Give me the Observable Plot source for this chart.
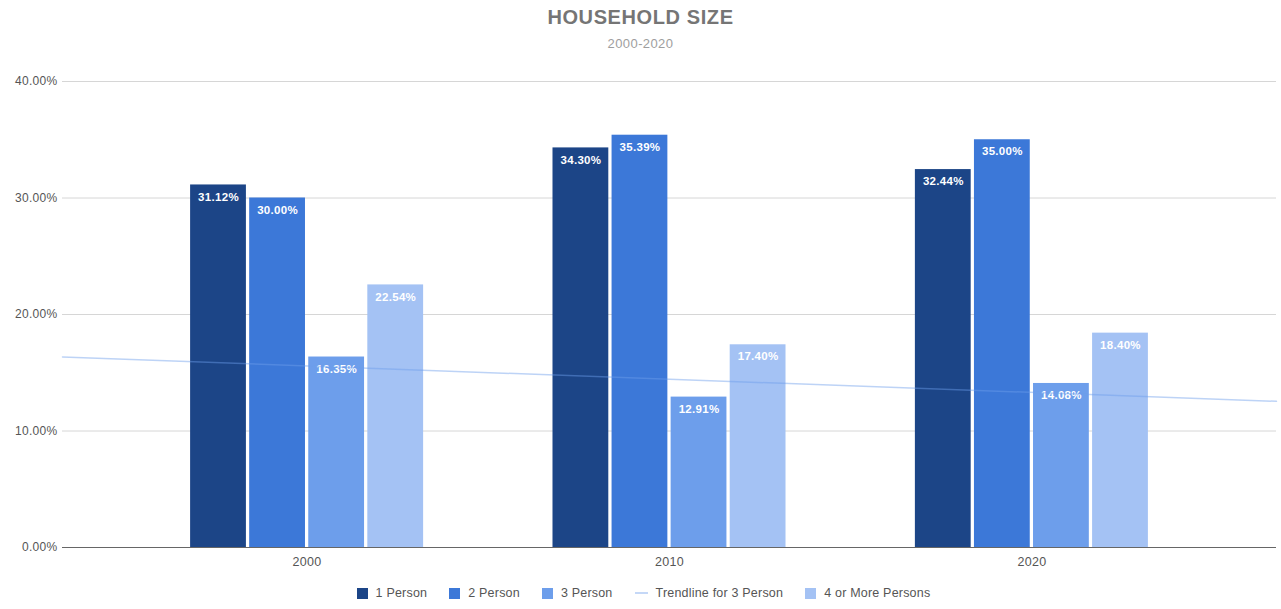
<!DOCTYPE html>
<html>
<head>
<meta charset="utf-8">
<script src="https://cdn.jsdelivr.net/npm/d3@7"></script>
<script src="https://cdn.jsdelivr.net/npm/@observablehq/plot@0.6"></script>
<style>
  html, body { margin: 0; padding: 0; background: #fff; }
  body { width: 1281px; height: 609px; overflow: hidden; font-family: "Liberation Sans", Arial, sans-serif; }
  #header { position: relative; height: 65px; }
  #title { position: absolute; left: 0; right: 0; top: 6px; text-align: center; font-size: 20px; letter-spacing: 0.6px; font-weight: bold; color: #757575; }
  #subtitle { position: absolute; left: 0; right: 0; top: 36px; text-align: center; font-size: 13px; letter-spacing: 0.4px; color: #9e9e9e; }
  #legend { display: flex; justify-content: center; align-items: center; gap: 22px; height: 32px; font-size: 12.5px; letter-spacing: 0.2px; color: #555; padding-left: 6px; }
  .item { display: flex; align-items: center; gap: 8px; }
  .sw { width: 11px; height: 11px; display: inline-block; }
  .ln { width: 13px; height: 2px; display: inline-block; }
  svg text { letter-spacing: 0.3px; }
</style>
</head>
<body>
<div id="header"><div id="title"></div><div id="subtitle"></div></div>
<div id="chart"></div>
<div id="legend"></div>
<script>
const titleText = "HOUSEHOLD SIZE";
const subtitleText = "2000-2020";
const years = [2000, 2010, 2020];
const series = ["1 Person", "2 Person", "3 Person", "4 or More Persons"];
const onePerson = [31.12, 34.30, 32.44];
const twoPerson = [30.00, 35.39, 35.00];
const threePerson = [16.35, 12.91, 14.08];
const fourPlus = [22.54, 17.40, 18.40];
const yTicks = [0, 10, 20, 30, 40];
const trendLabel = "Trendline for 3 Person";

const colors = ["#1c4587", "#3c78d8", "#6d9eeb", "#a4c2f4"];
const trendColor = "#6d9eeb";
const xDomain = [1993.25, 2026.75];
const barStep = 1.63;   // years between bar centers within a group
const barWidth = 1.54;  // bar width in years

document.getElementById("title").textContent = titleText;
document.getElementById("subtitle").textContent = subtitleText;

const seriesValues = [onePerson, twoPerson, threePerson, fourPlus];
const rows = [];
seriesValues.forEach((vals, s) => {
  vals.forEach((v, j) => rows.push({year: years[j], series: series[s], s, value: v}));
});
const center = d => d.year + (d.s - 1.5) * barStep;

// linear regression for 3 Person trendline
const mx = d3.mean(years), my = d3.mean(threePerson);
const slope = d3.sum(years.map((x, i) => (x - mx) * (threePerson[i] - my))) / d3.sum(years.map(x => (x - mx) ** 2));
const icpt = my - slope * mx;
const trend = xDomain.map(x => ({x, y: icpt + slope * x}));

const fmt = d => d.toFixed(2) + "%";

const chart = Plot.plot({
  width: 1281,
  height: 512,
  marginTop: 16,
  marginBottom: 30,
  marginLeft: 62,
  marginRight: 5,
  style: {fontFamily: "'Liberation Sans', Arial, sans-serif", fontSize: "12px", color: "#555", background: "#fff"},
  x: {type: "linear", domain: xDomain},
  y: {domain: [0, 40]},
  color: {domain: series, range: colors},
  marks: [
    Plot.gridY(yTicks, {stroke: "#d6d6d6", strokeOpacity: 1}),
    Plot.rectY(rows, {
      x1: d => center(d) - barWidth / 2,
      x2: d => center(d) + barWidth / 2,
      y: "value",
      fill: "series"
    }),
    Plot.text(rows, {
      x: center, y: "value", text: d => fmt(d.value),
      dy: 12, fill: "white", fontWeight: "bold", fontSize: 11.5
    }),
    Plot.line(trend, {x: "x", y: "y", stroke: trendColor, strokeOpacity: 0.45, strokeWidth: 1.5}),
    Plot.ruleY([0], {stroke: "#666"}),
    Plot.axisY({ticks: yTicks, tickFormat: fmt, tickSize: 0, tickPadding: 5, label: null, fontSize: 12}),
    Plot.axisX({ticks: years, tickFormat: d => String(d), tickSize: 0, tickPadding: 10, label: null, fontSize: 12.5})
  ]
});
document.getElementById("chart").appendChild(chart);

const legend = document.getElementById("legend");
const items = [
  {label: series[0], color: colors[0], type: "sw"},
  {label: series[1], color: colors[1], type: "sw"},
  {label: series[2], color: colors[2], type: "sw"},
  {label: trendLabel, color: "#c5d8f7", type: "ln"},
  {label: series[3], color: colors[3], type: "sw"}
];
items.forEach(it => {
  const el = document.createElement("div");
  el.className = "item";
  const sw = document.createElement("span");
  sw.className = it.type;
  sw.style.background = it.color;
  const tx = document.createElement("span");
  tx.textContent = it.label;
  el.appendChild(sw); el.appendChild(tx);
  legend.appendChild(el);
});
</script>
</body>
</html>
